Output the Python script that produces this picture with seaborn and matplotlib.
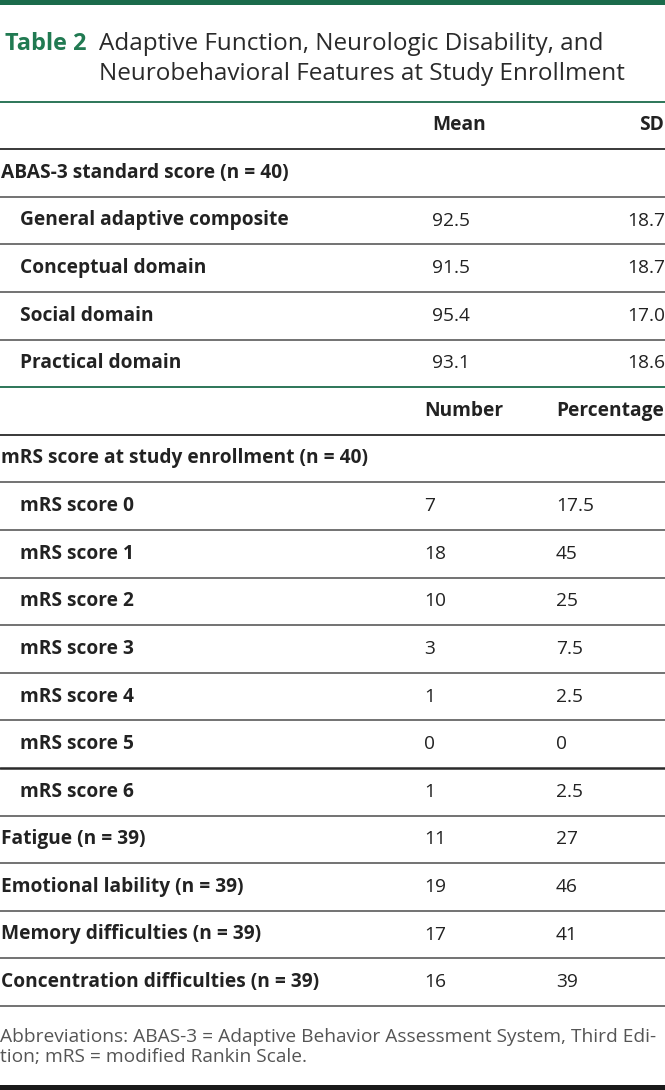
import matplotlib
matplotlib.use("Agg")
import matplotlib.pyplot as plt
import seaborn as sns

# ── Table content ─────────────────────────────────────────────────────────────
title_tag = "Table 2"
title_lines = ["Adaptive Function, Neurologic Disability, and",
               "Neurobehavioral Features at Study Enrollment"]

abas_header = ["Mean", "SD"]
abas_labels = ["ABAS-3 standard score (n = 40)", "General adaptive composite",
               "Conceptual domain", "Social domain", "Practical domain"]
abas_mean = [None, 92.5, 91.5, 95.4, 93.1]
abas_sd = [None, 18.7, 18.7, 17.0, 18.6]

count_header = ["Number", "Percentage"]
mrs_labels = ["mRS score at study enrollment (n = 40)", "mRS score 0", "mRS score 1",
              "mRS score 2", "mRS score 3", "mRS score 4", "mRS score 5", "mRS score 6"]
mrs_number = [None, 7, 18, 10, 3, 1, 0, 1]
mrs_pct = [None, 17.5, 45, 25, 7.5, 2.5, 0, 2.5]

feature_labels = ["Fatigue (n = 39)", "Emotional lability (n = 39)",
                  "Memory difficulties (n = 39)", "Concentration difficulties (n = 39)"]
feature_number = [11, 19, 17, 16]
feature_pct = [27, 46, 41, 39]

footnote = ["Abbreviations: ABAS-3 = Adaptive Behavior Assessment System, Third Edi-",
            "tion; mRS = modified Rankin Scale."]

# ── Styling ───────────────────────────────────────────────────────────────────
sns.set_theme(style="white")
plt.rcParams["font.family"] = ["Open Sans", "DejaVu Sans"]

GREEN = "#1b6b4b"
TEXT = "#222222"
RULE = "#5a5a5a"
FS = 13.8

W, H = 665, 1090
TOP = 101.5
PITCH = 47.6

fig = plt.figure(figsize=(W / 100, H / 100), dpi=100)
ax = fig.add_axes([0, 0, 1, 1])
ax.set_xlim(0, W)
ax.set_ylim(H, 0)
ax.axis("off")

# top bar + title
ax.axhspan(0, 5, color=GREEN, lw=0)
ax.text(5, 49.5, title_tag, color="#217a52", fontsize=16.9, fontweight="bold", va="baseline")
for i, line in enumerate(title_lines):
    ax.text(99, 50 + i * 29.5, line, color="#2a2a2a", fontsize=17.5, va="baseline")

# assemble rows: (label, indent, col1, col2, kind)
rows = [("", 0, abas_header[0], abas_header[1], "header1")]
for i, lab in enumerate(abas_labels):
    m = "" if abas_mean[i] is None else f"{abas_mean[i]:.1f}"
    s = "" if abas_sd[i] is None else f"{abas_sd[i]:.1f}"
    rows.append((lab, 0 if i == 0 else 1, m, s, "abas"))
rows.append(("", 0, count_header[0], count_header[1], "header2"))
for i, lab in enumerate(mrs_labels):
    n = "" if mrs_number[i] is None else f"{mrs_number[i]}"
    p = "" if mrs_pct[i] is None else f"{mrs_pct[i]:g}"
    rows.append((lab, 0 if i == 0 else 1, n, p, "count"))
for lab, n, p in zip(feature_labels, feature_number, feature_pct):
    rows.append((lab, 0, f"{n}", f"{p:g}", "count"))

for r, (lab, indent, c1, c2, kind) in enumerate(rows):
    yc = TOP + (r + 0.5) * PITCH
    ax.text(1 + indent * 19, yc, lab, color=TEXT, fontsize=FS, fontweight="bold", va="center")
    if kind == "header1":
        ax.text(432, yc, c1, color=TEXT, fontsize=FS, fontweight="bold", va="center")
        ax.text(664, yc, c2, color=TEXT, fontsize=FS, fontweight="bold", va="center", ha="right")
    elif kind == "header2":
        ax.text(424, yc, c1, color=TEXT, fontsize=FS, fontweight="bold", va="center")
        ax.text(556, yc, c2, color=TEXT, fontsize=FS, fontweight="bold", va="center")
    elif kind == "abas":
        ax.text(432, yc, c1, color=TEXT, fontsize=FS, va="center")
        ax.text(665, yc, c2, color=TEXT, fontsize=FS, va="center", ha="right")
    else:
        ax.text(424, yc, c1, color=TEXT, fontsize=FS, va="center")
        ax.text(556, yc, c2, color=TEXT, fontsize=FS, va="center")

# horizontal rules
n_rows = len(rows)
header2_idx = 1 + len(abas_labels)
mrs6_idx = header2_idx + len(mrs_labels)
for k in range(n_rows + 1):
    y = TOP + k * PITCH
    if k == 0 or k == header2_idx:
        ax.axhline(y, color=GREEN, lw=1.3)
    elif k == mrs6_idx:
        ax.axhline(y, color="#2a2a2a", lw=1.8)
    elif k in (1, header2_idx + 1):
        ax.axhline(y, color="#2a2a2a", lw=1.3)
    else:
        ax.axhline(y, color=RULE, lw=1.2)

# footnote
for i, line in enumerate(footnote):
    ax.text(0, 1042 + i * 20, line, color="#555555", fontsize=13.75, va="baseline")
ax.axhspan(1085, 1090, color="#1a1a1a", lw=0)

fig.savefig("out.png", dpi=100)
plt.close(fig)
